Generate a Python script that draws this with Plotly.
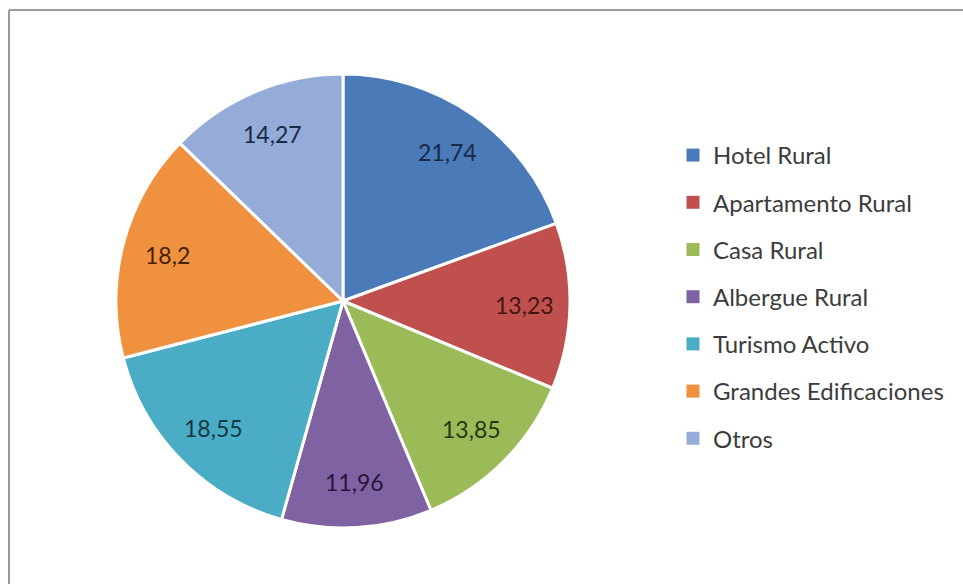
import math
import plotly.graph_objects as go

categories = ["Hotel Rural", "Apartamento Rural", "Casa Rural", "Albergue Rural",
              "Turismo Activo", "Grandes Edificaciones", "Otros"]
values = [21.74, 13.23, 13.85, 11.96, 18.55, 18.2, 14.27]
colors = ["#4A7AB7", "#C0504D", "#9BBB59", "#7F62A1", "#4BACC6", "#F0913F", "#95ABD8"]
text_colors = ["#182A48", "#451515", "#263812", "#26163A", "#133845", "#432205", "#1A2848"]

labels_txt = [str(v).replace(".", ",") for v in values]

W, H = 963, 584
cx, cy, r = 343, 301, 227
LABEL_R = 0.8
FONT = "Lato, Open Sans, sans-serif"

fig = go.Figure()
fig.add_trace(go.Pie(
    labels=categories,
    values=values,
    text=labels_txt,
    textinfo="none",
    marker=dict(colors=colors, line=dict(color="white", width=3)),
    sort=False,
    direction="clockwise",
    rotation=0,
    showlegend=False,
    hoverinfo="label+value",
    domain=dict(x=[(cx - r) / W, (cx + r) / W],
                y=[(H - cy - r) / H, (H - cy + r) / H]),
))

# data labels placed at the middle angle of each slice (from the values)
total = sum(values)
cum = 0.0
annotations = []
for v, t, tc in zip(values, labels_txt, text_colors):
    ang = math.radians((cum + v / 2) / total * 360)
    cum += v
    px = cx + LABEL_R * r * math.sin(ang)
    py = cy - LABEL_R * r * math.cos(ang)
    annotations.append(dict(
        x=px / W, y=1 - py / H, xref="paper", yref="paper",
        xanchor="center", yanchor="middle",
        text=t, showarrow=False,
        font=dict(family=FONT, size=23, color=tc),
    ))

# legend entries (one per category, same colours as the slices)
for i, (name, col) in enumerate(zip(categories, colors)):
    fig.add_trace(go.Scatter(
        x=[None], y=[None], mode="markers", name=name,
        legendgroup="g%d" % i,
        marker=dict(symbol="square", size=13, color=col),
        hoverinfo="skip",
    ))

fig.update_layout(
    width=W, height=H,
    margin=dict(l=0, r=0, t=0, b=0),
    paper_bgcolor="white",
    plot_bgcolor="white",
    xaxis=dict(visible=False),
    yaxis=dict(visible=False),
    showlegend=True,
    annotations=annotations,
    legend=dict(
        x=673 / W, y=1 - 133 / H, xanchor="left", yanchor="top",
        font=dict(family=FONT, size=24, color="#3c3c3c"),
        itemwidth=30,
        traceorder="grouped",
        tracegroupgap=13,
        bgcolor="rgba(0,0,0,0)",
    ),
    shapes=[
        dict(type="line", xref="paper", yref="paper",
             x0=9 / W, x1=9 / W, y0=0, y1=1 - 10 / H,
             line=dict(color="#9a9a9a", width=2)),
        dict(type="line", xref="paper", yref="paper",
             x0=9 / W, x1=1, y0=1 - 10 / H, y1=1 - 10 / H,
             line=dict(color="#9a9a9a", width=2)),
    ],
)

fig.write_html("out.html", config={"displayModeBar": False},
               post_script="document.body.style.margin='0px';")
